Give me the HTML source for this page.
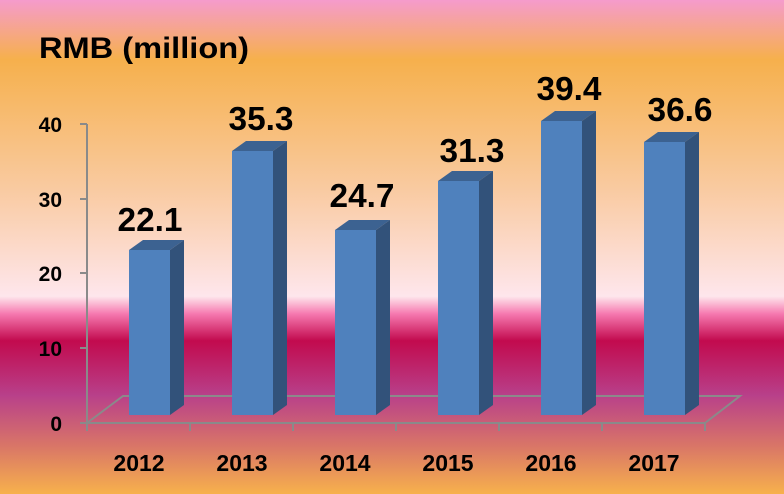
<!DOCTYPE html>
<html><head><style>
html,body{margin:0;padding:0;width:784px;height:494px;overflow:hidden}
svg{display:block}
text{font-family:"Liberation Sans",Arial,sans-serif;font-weight:bold;fill:#000}
</style></head><body>
<svg width="784" height="494" viewBox="0 0 784 494" xmlns="http://www.w3.org/2000/svg">
<defs>
<linearGradient id="bg" x1="0" y1="0" x2="0" y2="494" gradientUnits="userSpaceOnUse">
<stop offset="0" stop-color="#f59bcc"/>
<stop offset="0.12" stop-color="#f6b04c"/>
<stop offset="0.38" stop-color="#f9caa0"/>
<stop offset="0.6" stop-color="#fee6ec"/>
<stop offset="0.635" stop-color="#f67ab0"/>
<stop offset="0.69" stop-color="#c20a4e"/>
<stop offset="0.8" stop-color="#b8408a"/>
<stop offset="0.9" stop-color="#d87468"/>
<stop offset="1" stop-color="#f7b14c"/>
</linearGradient>
</defs>
<rect width="784" height="494" fill="url(#bg)"/>
<text x="39" y="58" font-size="30" textLength="210" lengthAdjust="spacingAndGlyphs">RMB (million)</text>
<g stroke="#8a8a8a" stroke-width="2" fill="none">
<line x1="87" y1="124" x2="87" y2="431"/>
<line x1="80" y1="124" x2="87" y2="124"/>
<line x1="80" y1="199" x2="87" y2="199"/>
<line x1="80" y1="273" x2="87" y2="273"/>
<line x1="80" y1="348" x2="87" y2="348"/>
<line x1="80" y1="423" x2="705" y2="423"/>
<polyline points="87,423 123,396 740,396 705,423"/>
<line x1="190" y1="423" x2="190" y2="431"/>
<line x1="293" y1="423" x2="293" y2="431"/>
<line x1="396" y1="423" x2="396" y2="431"/>
<line x1="499" y1="423" x2="499" y2="431"/>
<line x1="602" y1="423" x2="602" y2="431"/>
<line x1="705" y1="423" x2="705" y2="431"/>
</g>
<g font-size="21" text-anchor="end">
<text x="62" y="132">40</text>
<text x="62" y="207">30</text>
<text x="62" y="281">20</text>
<text x="62" y="356">10</text>
<text x="62" y="431">0</text>
</g>
<g font-size="23" text-anchor="middle">
<text x="139" y="471">2012</text>
<text x="242" y="471">2013</text>
<text x="345" y="471">2014</text>
<text x="448" y="471">2015</text>
<text x="551" y="471">2016</text>
<text x="654" y="471">2017</text>
</g>
<g id="bars">
<polygon points="129,250 143,240 184,240 170,250" fill="#3c6291"/>
<polygon points="170,250 184,240 184,405 170,415" fill="#32527a"/>
<rect x="129" y="250" width="41" height="165" fill="#4f81bd"/>

<polygon points="232,151 246,141 287,141 273,151" fill="#3c6291"/>
<polygon points="273,151 287,141 287,405 273,415" fill="#32527a"/>
<rect x="232" y="151" width="41" height="264" fill="#4f81bd"/>

<polygon points="335,230 349,220 390,220 376,230" fill="#3c6291"/>
<polygon points="376,230 390,220 390,405 376,415" fill="#32527a"/>
<rect x="335" y="230" width="41" height="185" fill="#4f81bd"/>

<polygon points="438,181 452,171 493,171 479,181" fill="#3c6291"/>
<polygon points="479,181 493,171 493,405 479,415" fill="#32527a"/>
<rect x="438" y="181" width="41" height="234" fill="#4f81bd"/>

<polygon points="541,121 555,111 596,111 582,121" fill="#3c6291"/>
<polygon points="582,121 596,111 596,405 582,415" fill="#32527a"/>
<rect x="541" y="121" width="41" height="294" fill="#4f81bd"/>

<polygon points="644,142 658,132 699,132 685,142" fill="#3c6291"/>
<polygon points="685,142 699,132 699,405 685,415" fill="#32527a"/>
<rect x="644" y="142" width="41" height="273" fill="#4f81bd"/>
</g>
<g font-size="33" text-anchor="middle">
<text x="150" y="231" textLength="65" lengthAdjust="spacingAndGlyphs">22.1</text>
<text x="261" y="130" textLength="65" lengthAdjust="spacingAndGlyphs">35.3</text>
<text x="362" y="207" textLength="65" lengthAdjust="spacingAndGlyphs">24.7</text>
<text x="472" y="162" textLength="65" lengthAdjust="spacingAndGlyphs">31.3</text>
<text x="569" y="100" textLength="65" lengthAdjust="spacingAndGlyphs">39.4</text>
<text x="680" y="121" textLength="65" lengthAdjust="spacingAndGlyphs">36.6</text>
</g>
</svg>
</body></html>
